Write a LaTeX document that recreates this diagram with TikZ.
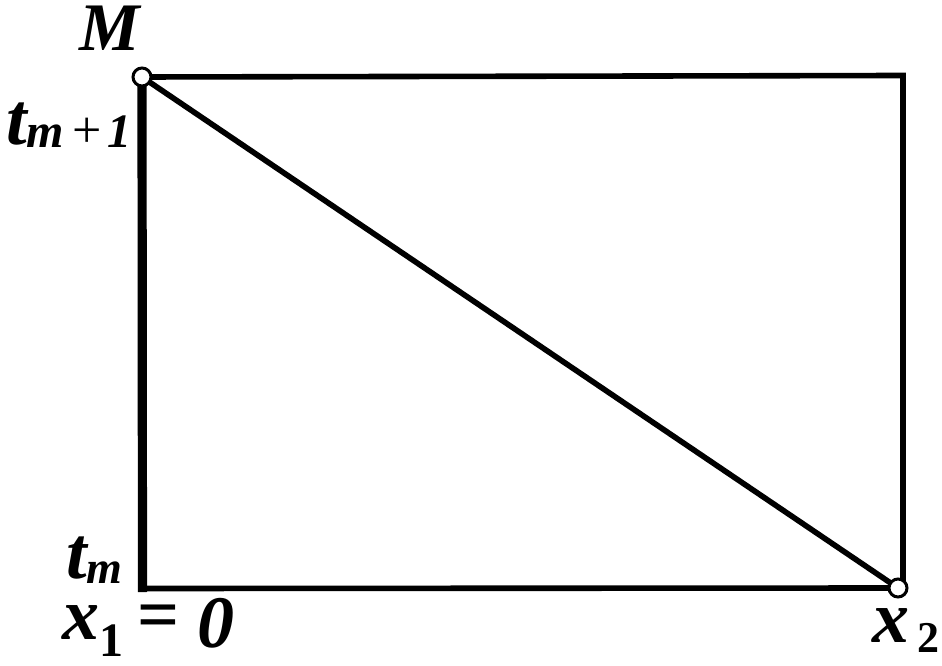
\documentclass[tikz,border=0pt]{standalone}
\usepackage{fontspec}
\setmainfont{Liberation Serif}
\usetikzlibrary{positioning}
\tikzset{
  edge/.style={line width=2.8pt},
  leftedge/.style={line width=4.6pt},
  knot/.style={circle,draw,fill=white,line width=1.5pt,inner sep=0pt,minimum size=9pt},
  lbl/.style={inner sep=0pt,font=\fontsize{37}{37}\selectfont\bfseries\itshape},
}
\newcommand{\lowsub}[3]{\raisebox{-#1}{\fontsize{#2}{#2}\selectfont #3}}

\begin{document}
\begin{tikzpicture}[x=0.5pt,y=0.5pt]
	\useasboundingbox (0,0) rectangle (942,665);
	% corners
	\coordinate (tr) at (903,589.5);
	\coordinate (br) at (903,77);
	\coordinate (bl) at (142.5,76.5);
	\coordinate (blo) at (142.5,73);
	% end points
	\coordinate (cM) at (142,588);
	\coordinate (cX) at (898,77);
	% frame
	\draw [leftedge] (blo) -- (cM);
	\draw [edge] (bl) -- (cX);
	\draw [edge] (cM) -- (tr) -- (br);
	% diagonal
	\draw [edge] (cM) -- (cX);
	% circles
	\node[knot] (pM) at (cM) {};
	\node[knot] (pX) at (cX) {};
	% figure text
	\node[lbl,anchor=base,font=\fontsize{34}{34}\selectfont\bfseries\itshape] (lblM) at (110,614) {M};
	\node[lbl,anchor=base west] (lblT1) at (6,520) {t\lowsub{1.5pt}{24}{m\hspace{4pt}{\normalfont\fontsize{26}{26}\selectfont+}\hspace{3pt}1}};
	\node[lbl,anchor=base west] (lblT0) at (66,87) {t\lowsub{2.5pt}{23}{m}};
	\node[lbl,anchor=base west] (lblX1) at (62,26) {x\lowsub{8.5pt}{24}{\upshape 1}\hspace{7pt}{\normalfont\bfseries=}\hspace{9pt}\raisebox{-4pt}{0}};
	\node[lbl,anchor=base west] (lblX2) at (872,23) {x\hspace{4pt}\lowsub{5pt}{22}{\upshape 2}};
\end{tikzpicture}
\end{document}
